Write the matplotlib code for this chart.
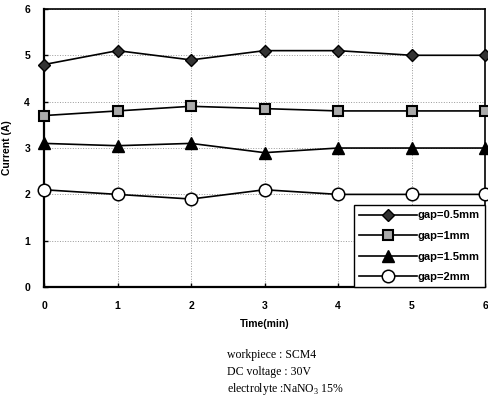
import matplotlib
matplotlib.use("Agg")
import matplotlib.pyplot as plt

# === DATA ===
time_min = [0, 1, 2, 3, 4, 5, 6]
gap_05 = [4.8, 5.1, 4.9, 5.1, 5.1, 5.0, 5.0]
gap_1 = [3.7, 3.8, 3.9, 3.85, 3.8, 3.8, 3.8]
gap_15 = [3.1, 3.05, 3.1, 2.9, 3.0, 3.0, 3.0]
gap_2 = [2.1, 2.0, 1.9, 2.1, 2.0, 2.0, 2.0]
labels = ["gap=0.5mm", "gap=1mm", "gap=1.5mm", "gap=2mm"]
caption = ["workpiece : SCM4", "DC voltage : 30V", "electrolyte :NaNO$_3$ 15%"]
# ============

plt.rcParams['font.family'] = ['Liberation Sans', 'DejaVu Sans']
plt.rcParams['mathtext.fontset'] = 'custom'
plt.rcParams['mathtext.rm'] = 'Liberation Serif'

fig = plt.figure(figsize=(4.89, 4.05), dpi=100)
ax = fig.add_axes([0.09, 0.291, 0.902, 0.687])

ax.plot(time_min, gap_05, color='black', lw=1.2, marker='D', markersize=6,
        markerfacecolor='#333333', markeredgecolor='black', clip_on=False, zorder=3,
        label=labels[0])
ax.plot(time_min, gap_1, color='black', lw=1.2, marker='s', markersize=7,
        markerfacecolor='#aaaaaa', markeredgecolor='black', markeredgewidth=1.5,
        clip_on=False, zorder=3, label=labels[1])
ax.plot(time_min, gap_15, color='black', lw=1.2, marker='^', markersize=8.5,
        markerfacecolor='black', markeredgecolor='black', clip_on=False, zorder=3,
        label=labels[2])
ax.plot(time_min, gap_2, color='black', lw=1.2, marker='o', markersize=9,
        markerfacecolor='white', markeredgecolor='black', markeredgewidth=1.1,
        clip_on=False, zorder=3, label=labels[3])

ax.set_xlim(0, 6)
ax.set_ylim(0, 6)
ax.set_xticks(time_min)
ax.set_yticks(range(0, 7))
ax.grid(True, linestyle=':', color='#999999', lw=0.7)

for side in ['left', 'bottom']:
    ax.spines[side].set_linewidth(1.6)
for side in ['top', 'right']:
    ax.spines[side].set_linewidth(1.2)

ax.tick_params(direction='in', length=3, width=1, labelsize=7.5, pad=10)
for lbl in ax.get_xticklabels() + ax.get_yticklabels():
    lbl.set_fontweight('bold')

ax.set_xlabel("Time(min)", fontsize=7.5, fontweight='bold', labelpad=6)
ax.set_ylabel("Current (A)", fontsize=7.5, fontweight='bold', labelpad=9)

leg = ax.legend(loc='lower right', borderaxespad=0, fancybox=False,
                edgecolor='black', framealpha=1, handlelength=5.2,
                prop={'size': 8, 'weight': 'bold'}, labelspacing=0.95,
                handletextpad=0.1, borderpad=0.45)
leg.get_frame().set_linewidth(1.0)

for i, line in enumerate(caption):
    fig.text(227 / 489, 1 - (355 + i * 17) / 405, line, fontsize=8.5,
             family='Liberation Serif', va='center', ha='left')

fig.savefig("out.png", dpi=100)
